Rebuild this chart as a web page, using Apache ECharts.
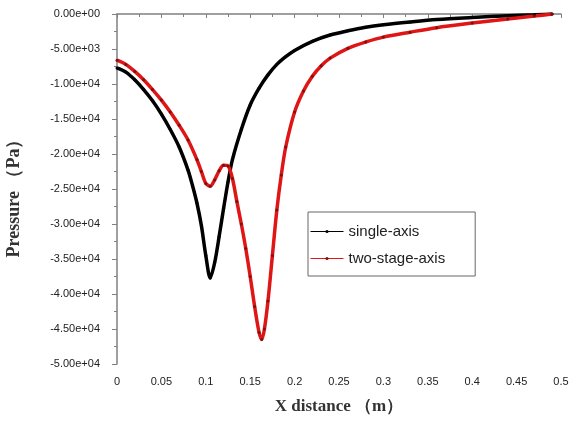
<!DOCTYPE html>
<html>
<head>
<meta charset="utf-8">
<script src="https://cdn.jsdelivr.net/npm/echarts@6/dist/echarts.min.js"></script>
<style>
  html, body { margin: 0; padding: 0; background: #fff; }
  #chart { width: 571px; height: 421px; }
</style>
</head>
<body>
<div id="chart"></div>
<script>
// Static pressure along the axis (Pa) versus X distance (m)
const singleX = [0, 0.01, 0.02, 0.03, 0.04, 0.05, 0.06, 0.07, 0.08, 0.085, 0.09, 0.095, 0.1, 0.105, 0.11, 0.115, 0.12, 0.125, 0.13, 0.14, 0.15, 0.16, 0.17, 0.18, 0.19, 0.2, 0.22, 0.24, 0.26, 0.28, 0.3, 0.33, 0.36, 0.4, 0.44, 0.47, 0.49];
const singleP = [-7700, -8300, -9400, -10800, -12400, -14300, -16500, -19000, -22300, -24500, -27000, -30200, -34500, -37700, -35500, -31800, -27800, -24000, -20800, -16500, -13000, -10600, -8700, -7200, -6100, -5200, -3900, -3000, -2400, -1900, -1550, -1150, -800, -500, -250, -100, 0];

const twoStageX = [0, 0.01, 0.02, 0.03, 0.04, 0.05, 0.06, 0.07, 0.08, 0.09, 0.095, 0.1, 0.105, 0.11, 0.115, 0.12, 0.125, 0.13, 0.135, 0.14, 0.145, 0.15, 0.155, 0.16, 0.163, 0.166, 0.17, 0.175, 0.18, 0.185, 0.19, 0.2, 0.21, 0.22, 0.23, 0.24, 0.26, 0.28, 0.3, 0.33, 0.36, 0.4, 0.44, 0.47, 0.49];
const twoStageP = [-6600, -7200, -8200, -9400, -10800, -12300, -14000, -15900, -18000, -20800, -22500, -24200, -24600, -23700, -22400, -21600, -21700, -23500, -26800, -30000, -33500, -37500, -41800, -45500, -46500, -45000, -41000, -34500, -28000, -23000, -19000, -14000, -11000, -8900, -7400, -6300, -4900, -4000, -3300, -2600, -1950, -1300, -700, -300, 0];

const seriesNames = ['single-axis', 'two-stage-axis'];
const xTickLabels = ['0', '0.05', '0.1', '0.15', '0.2', '0.25', '0.3', '0.35', '0.4', '0.45', '0.5'];

function pairs(xs, ys) { return xs.map((x, i) => [x, ys[i]]); }

// Scientific notation with a two-digit exponent, e.g. -5.00e+03
function sci(v) {
  if (v === 0) return '0.00e+00';
  const s = v.toExponential(2);
  const m = s.match(/^(-?[\d.]+)e([+-])(\d+)$/);
  return m[1] + 'e' + m[2] + (m[3].length < 2 ? '0' + m[3] : m[3]);
}

const chart = echarts.init(document.getElementById('chart'));
const axisGrey = '#808080';
const labelFont = { fontFamily: 'Liberation Sans, Arial, sans-serif', fontSize: 11, color: '#222' };
const nameFont = { fontFamily: 'Liberation Serif, Times New Roman, serif', fontWeight: 'bold', color: '#333' };

chart.setOption({
  animation: false,
  backgroundColor: '#fff',
  grid: { left: 117, right: 10, top: 14, bottom: 57, containLabel: false, outerBoundsMode: 'none' },
  legend: {
    orient: 'vertical',
    left: 308, top: 212,
    padding: [12, 30, 10, 2],
    borderColor: '#666', borderWidth: 1,
    itemWidth: 33, itemHeight: 4, itemGap: 12,
    lineStyle: { width: 1 },
    textStyle: { fontFamily: 'Liberation Sans, Arial, sans-serif', fontSize: 15, color: '#222' },
    data: seriesNames
  },
  xAxis: {
    type: 'value', min: 0, max: 0.5, interval: 0.05,
    name: 'X distance （m）', nameLocation: 'middle', nameGap: 34,
    nameTextStyle: Object.assign({ fontSize: 17 }, nameFont),
    axisLine: { lineStyle: { color: axisGrey, width: 1.5 } },
    axisTick: { show: true, length: 4, lineStyle: { color: axisGrey } },
    minorTick: { show: true, splitNumber: 2, length: 3, lineStyle: { color: axisGrey } },
    splitLine: { show: false },
    axisLabel: Object.assign({ margin: 12, formatter: (v) => xTickLabels[Math.round(v / 0.05)] }, labelFont)
  },
  yAxis: {
    type: 'value', min: -50000, max: 0, interval: 5000,
    name: 'Pressure （Pa）', nameLocation: 'middle', nameGap: 94, nameRotate: 90,
    nameTextStyle: Object.assign({ fontSize: 18, padding: [0, 10, 0, 0] }, nameFont),
    axisLine: { show: true, lineStyle: { color: axisGrey, width: 1.5 } },
    axisTick: { show: true, length: 5, lineStyle: { color: axisGrey } },
    minorTick: { show: true, splitNumber: 2, length: 3, lineStyle: { color: axisGrey } },
    splitLine: { show: false },
    axisLabel: Object.assign({ margin: 17, formatter: sci }, labelFont)
  },
  series: [
    {
      name: seriesNames[0], type: 'line',
      data: pairs(singleX, singleP),
      smooth: 0.3,
      symbol: 'circle', symbolSize: 3, showSymbol: true,
      lineStyle: { color: '#000', width: 3.5 },
      itemStyle: { color: '#000' }
    },
    {
      name: seriesNames[1], type: 'line',
      data: pairs(twoStageX, twoStageP),
      smooth: 0.3,
      symbol: 'circle', symbolSize: 3, showSymbol: true,
      lineStyle: { color: '#e01515', width: 3.5 },
      itemStyle: { color: '#7a1212' }
    }
  ]
});
</script>
</body>
</html>
